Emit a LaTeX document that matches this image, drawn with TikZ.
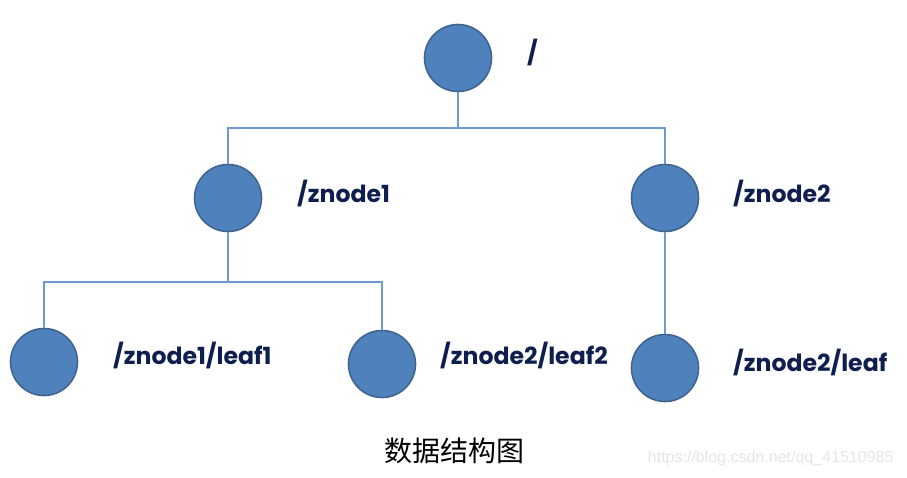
\documentclass[tikz,border=0pt]{standalone}
\usepackage{fontspec}
\setmainfont{Poppins}
\newfontfamily\cjk{Noto Sans CJK SC}
\newfontfamily\wmfont{Liberation Sans}
\usetikzlibrary{positioning}

\definecolor{nodeblue}{HTML}{4F81BD}
\definecolor{nodeedge}{HTML}{3F6590}
\definecolor{linkblue}{HTML}{6E9AD0}
\definecolor{labelnavy}{HTML}{0E1E4E}

\tikzset{
  zk/.style={circle, draw=nodeedge, fill=nodeblue, line width=1.6pt, minimum size=67pt, inner sep=0pt},
  path/.style={anchor=west, inner sep=0pt, text=labelnavy, font=\fontsize{23.6}{26}\selectfont\bfseries},
  link/.style={draw=linkblue, line width=1.5pt}
}

\begin{document}
\begin{tikzpicture}[x=1pt, y=1pt]
  \useasboundingbox (0,0) rectangle (907,-477);
  % znodes
  \node[zk] (root) at (458,-58) {};
  \node[zk] (zn1) at (228,-198) {};
  \node[zk] (zn2) at (665,-198) {};
  \node[zk] (lf1) at (44,-362) {};
  \node[zk] (lf2) at (382,-364) {};
  \node[zk] (lf3) at (665,-368) {};
  %
  \node[path] (lroot) at (527,-52) {/};
  \node[path] (lzn1) at (297,-193) {/znode1};
  \node[path] (lzn2) at (733,-193) {/znode2};
  \node[path] (llf1) at (113,-355) {/znode1/leaf1};
  \node[path] (llf2) at (440,-355) {/znode2/leaf2};
  \node[path] (llf3) at (733,-362) {/znode2/leaf};
  %
  \coordinate (j0) at (458,-128);
  \coordinate (j1) at (228,-282);
  \draw[link] (root) -- (j0) -| (zn1);
  \draw[link] (j0) -| (zn2);
  \draw[link] (zn1) -- (j1) -| (lf1);
  \draw[link] (j1) -| (lf2);
  \draw[link] (zn2) -- (lf3);
  %
  \node[font=\cjk\fontsize{28}{30}\selectfont] (title) at (454,-451) {数据结构图};
  \node[font=\wmfont\fontsize{16}{18}\selectfont, text=black!10, anchor=east] (mark) at (897,-458) {https://blog.csdn.net/qq\_41510985};
\end{tikzpicture}
\end{document}
